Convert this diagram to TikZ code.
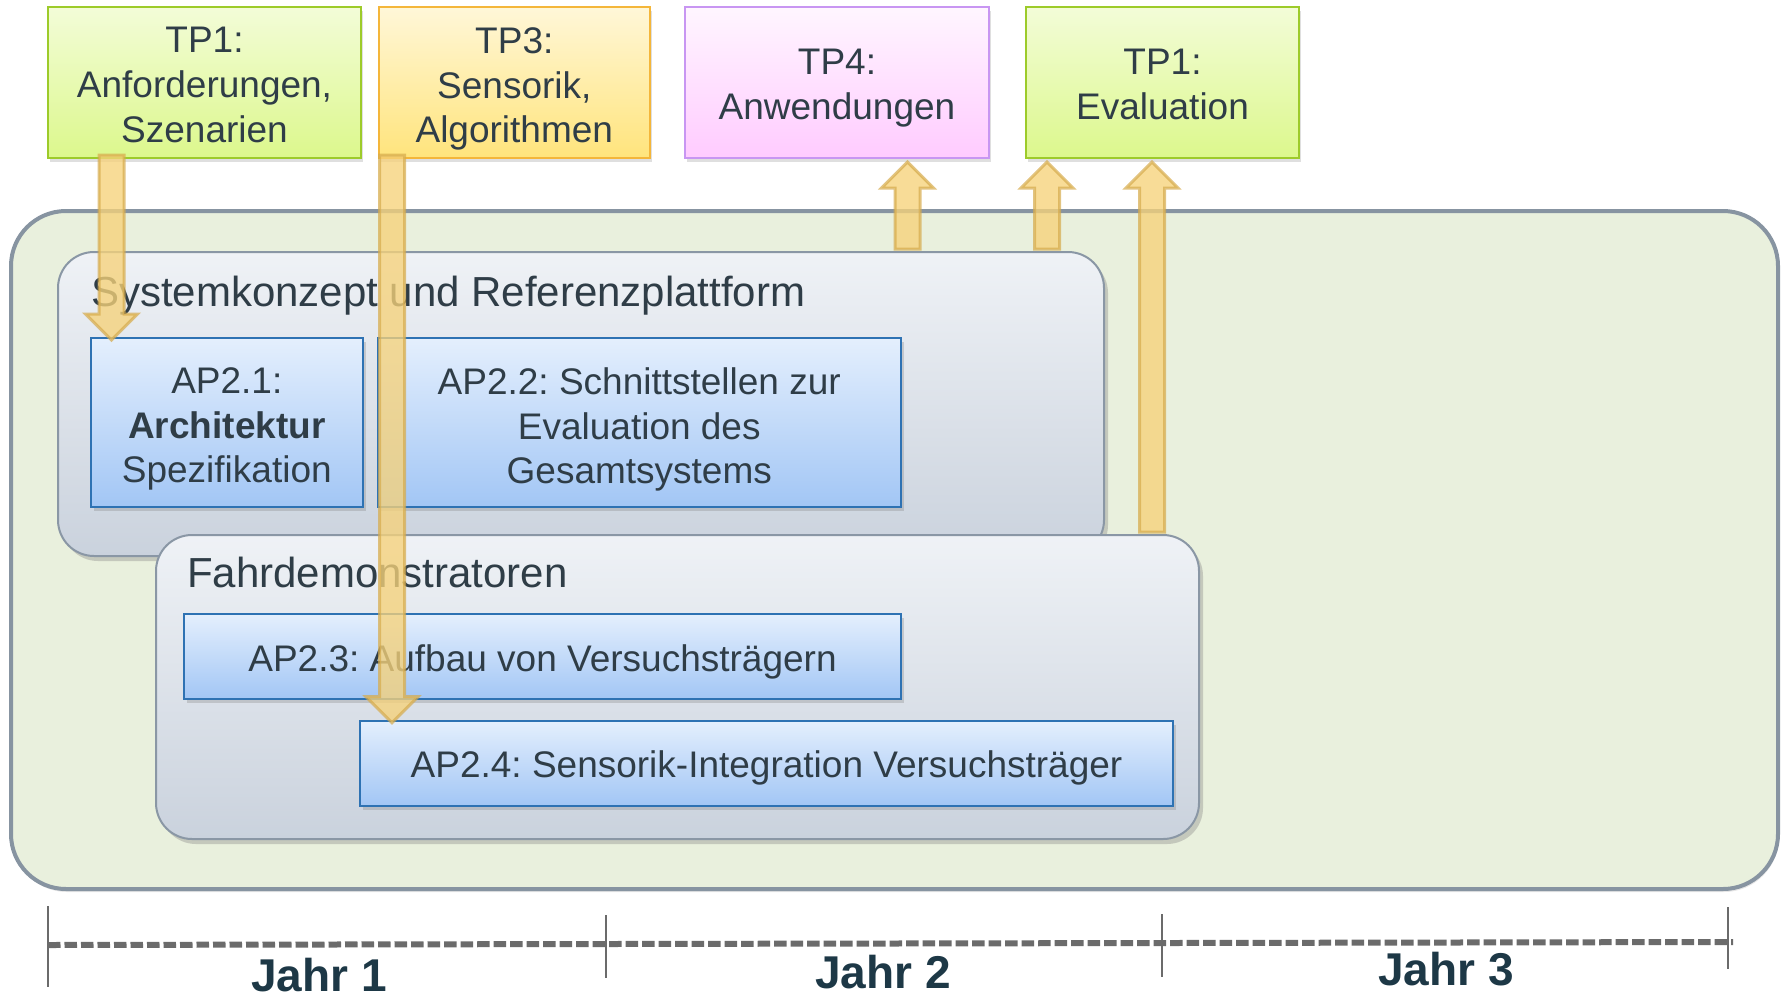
\documentclass[tikz,border=0pt]{standalone}
\usepackage{fontspec}
\setmainfont{Liberation Sans}
\usetikzlibrary{calc,shadows}
\frenchspacing
\definecolor{tcol}{HTML}{2F3D47}
\definecolor{jcol}{HTML}{1D3846}
\definecolor{greenT}{HTML}{F3FCD8}
\definecolor{greenB}{HTML}{DCF88C}
\definecolor{greenD}{HTML}{9DCB2A}
\definecolor{yelT}{HTML}{FFF7D8}
\definecolor{yelB}{HTML}{FFE47C}
\definecolor{yelD}{HTML}{F4B63A}
\definecolor{pinkT}{HTML}{FFF6FF}
\definecolor{pinkB}{HTML}{FFCBFF}
\definecolor{pinkD}{HTML}{C896F2}
\definecolor{blueT}{HTML}{E4EFFD}
\definecolor{blueB}{HTML}{A2C6F5}
\definecolor{blueD}{HTML}{2E72B3}
\definecolor{grayT}{HTML}{EFF2F6}
\definecolor{grayB}{HTML}{CAD2DD}
\definecolor{grayD}{HTML}{8A97A5}
\definecolor{outerF}{HTML}{E9F0DD}
\definecolor{outerD}{HTML}{8794A1}
\definecolor{arrF}{HTML}{F6D27A}
\definecolor{arrD}{HTML}{D6AB4C}
\definecolor{lineC}{HTML}{6B6B6B}

\newcommand{\fatdown}[3]{%
  \path[fatarr] let \p1=(#2), \p2=(#3) in
    (#1pt-12.5pt,\y1+3pt) -- (#1pt-12.5pt,\y2+24pt) -- (#1pt-26pt,\y2+24pt) --
    (#1pt,\y2-2pt) -- (#1pt+26pt,\y2+24pt) -- (#1pt+12.5pt,\y2+24pt) --
    (#1pt+12.5pt,\y1+3pt) -- cycle;}
\newcommand{\fatup}[3]{%
  \path[fatarr] let \p1=(#2), \p2=(#3) in
    (#1pt-12.5pt,\y1+3pt) -- (#1pt-12.5pt,\y2-30pt) -- (#1pt-26pt,\y2-30pt) --
    (#1pt,\y2-4pt) -- (#1pt+26pt,\y2-30pt) -- (#1pt+12.5pt,\y2-30pt) --
    (#1pt+12.5pt,\y1+3pt) -- cycle;}

\begin{document}
\begin{tikzpicture}[x=1pt,y=-1pt,
  every node/.style={text=tcol, font=\fontsize{37}{44.7}\selectfont, inner sep=0pt, outer sep=0pt},
  boxtext/.style={anchor=north, align=center},
  tpbox/.style={shade, line width=2pt, minimum height=151pt,
     drop shadow={shadow xshift=2pt, shadow yshift=-4pt, opacity=0.25}},
  tpgreen/.style={tpbox, draw=greenD, top color=greenT, bottom color=greenB},
  tpyellow/.style={tpbox, draw=yelD, top color=yelT, bottom color=yelB},
  tppink/.style={tpbox, draw=pinkD, top color=pinkT, bottom color=pinkB},
  apbox/.style={shade, draw=blueD, line width=2pt, top color=blueT, bottom color=blueB,
     drop shadow={shadow xshift=3pt, shadow yshift=-4pt, opacity=0.3}},
  groupbox/.style={shade, draw=grayD, line width=2pt, top color=grayT, bottom color=grayB,
     rounded corners=36pt, minimum height=304pt,
     drop shadow={shadow xshift=4pt, shadow yshift=-5pt, opacity=0.35}},
  heading/.style={anchor=base west, font=\fontsize{42}{50}\selectfont},
  fatarr/.style={fill=arrF, fill opacity=0.78, draw=arrD, draw opacity=0.7, line width=3pt},
  jahr/.style={anchor=base, text=jcol, font=\fontsize{46}{50}\selectfont\bfseries},
  tick/.style={draw=lineC, line width=2.5pt}
]
\useasboundingbox (0,0) rectangle (1785,999);

% outer container
\node[draw=outerD, line width=4pt, fill=outerF, rounded corners=55pt,
      minimum width=1767pt, minimum height=678pt,
      drop shadow={shadow xshift=1pt, shadow yshift=-3pt, opacity=0.2}] (outer) at (894.5,550) {};

% group boxes
\node[groupbox, minimum width=1046pt] (sys) at (581,404) {};
\node[heading] (systitle) at (91,306) {Systemkonzept und Referenzplattform};
\node[apbox, minimum width=272.4pt, minimum height=169pt] (ap21) at (226.8,422.5) {};
\node[boxtext] (ap21t) at ($(ap21.north)+(0,29.5)$) {AP2.1:\\\textbf{Architektur}\\Spezifikation};
\node[apbox, minimum width=522.5pt, minimum height=169pt] (ap22) at (639.25,422.5) {};
\node[boxtext] (ap22t) at ($(ap22.north)+(0,29.5)$) {AP2.2: Schnittstellen zur\\Evaluation des\\Gesamtsystems};

\node[groupbox, minimum width=1043pt] (fahr) at (677.5,687) {};
\node[heading] (fahrtitle) at (187,587) {Fahrdemonstratoren};
\node[apbox, minimum width=717pt, minimum height=85pt] (ap23) at (542.5,656.5) {};
\node[boxtext] (ap23t) at ($(ap23.north)+(0,31)$) {AP2.3: Aufbau von Versuchsträgern};
\node[apbox, minimum width=813pt, minimum height=85pt] (ap24) at (766.5,763.2) {};
\node[boxtext] (ap24t) at ($(ap24.north)+(0,30)$) {AP2.4: Sensorik-Integration Versuchsträger};

% top boxes
\node[tpgreen, minimum width=313pt] (tp1) at (204.5,82.5) {};
\node[boxtext] (tp1t) at ($(tp1.north)+(0,20.5)$) {TP1:\\Anforderungen,\\Szenarien};
\node[tpyellow, minimum width=271.4pt] (tp3) at (514.3,82.5) {};
\node[boxtext] (tp3t) at ($(tp3.north)+(0,20.5)$) {TP3:\\Sensorik,\\Algorithmen};
\node[tppink, minimum width=304.5pt] (tp4) at (837,82.5) {};
\node[boxtext] (tp4t) at ($(tp4.north)+(0,42)$) {TP4:\\Anwendungen};
\node[tpgreen, minimum width=272.4pt] (tp1e) at (1162.5,82.5) {};
\node[boxtext] (tp1et) at ($(tp1e.north)+(0,42)$) {TP1:\\Evaluation};

% fat arrows
\fatdown{111.6}{tp1.south}{ap21.north}
\fatdown{392}{tp3.south}{ap24.north}
\fatup{907.6}{sys.north}{tp4.south}
\fatup{1047}{sys.north}{tp1e.south}
\fatup{1152}{fahr.north}{tp1e.south}

% timeline
\draw[draw=lineC, line width=6pt, dash pattern=on 12.5pt off 4pt] (48,945) -- (1733,942);
\draw[tick] (48,906) -- (48,987);
\draw[tick] (606,915) -- (606,978);
\draw[tick] (1162,914) -- (1162,977);
\draw[tick] (1728,907) -- (1728,969);
\node[jahr] (j1) at (319,991) {Jahr 1};
\node[jahr] (j2) at (883,988) {Jahr 2};
\node[jahr] (j3) at (1446,985) {Jahr 3};
\end{tikzpicture}
\end{document}
